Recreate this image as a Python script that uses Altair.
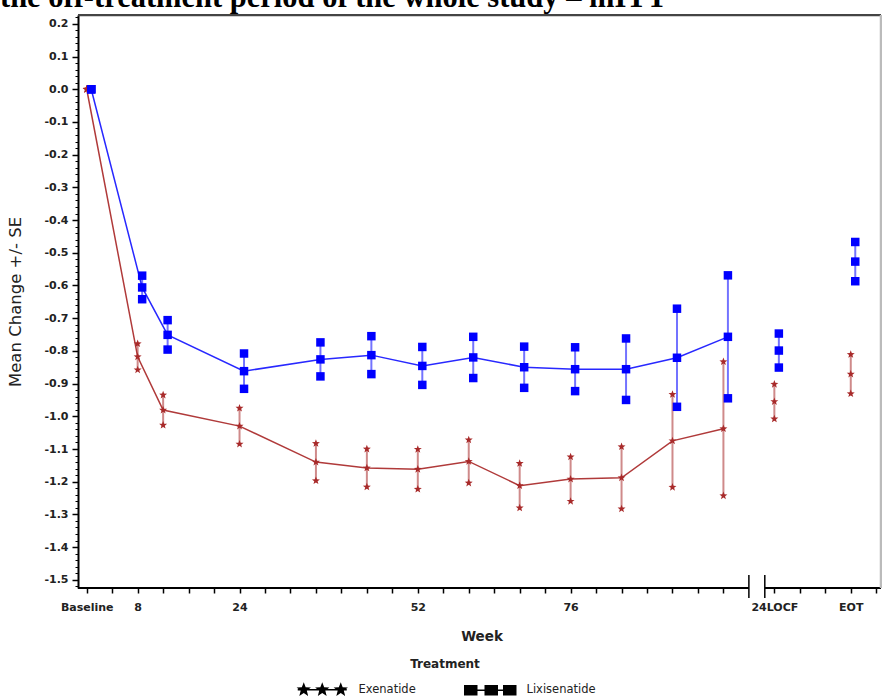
import math
import altair as alt
import pandas as pd

# ---------------- data ----------------
title_text = "the off-treatment period of the whole study – mITT"
treatments = ["Exenatide", "Lixisenatide"]
colors = ["#A82A2A", "#0000FF"]
line_colors = ["#B03A3A", "#2828FF"]

visit_names = ["Baseline", "Week 8", "Week 12", "Week 24", "Week 36", "Week 44", "Week 52",
               "Week 60", "Week 68", "Week 76", "Week 84", "Week 92", "Week 100", "24LOCF", "EOT"]
visit_pos = [0, 8, 12, 24, 36, 44, 52, 60, 68, 76, 84, 92, 100, 108, 120]
connected = [True] * 13 + [False] * 2

exen_mean = [0.0, -0.818, -0.981, -1.030, -1.140, -1.158, -1.162, -1.138, -1.212, -1.192,
             -1.188, -1.075, -1.038, -0.955, -0.871]
exen_se = [0.0, 0.040, 0.046, 0.055, 0.057, 0.058, 0.061, 0.066, 0.068, 0.068,
           0.095, 0.142, 0.205, 0.053, 0.060]
lixi_mean = [0.0, -0.606, -0.751, -0.862, -0.826, -0.813, -0.846, -0.820, -0.850, -0.856,
             -0.856, -0.821, -0.757, -0.799, -0.527]
lixi_se = [0.0, 0.036, 0.045, 0.054, 0.052, 0.058, 0.058, 0.063, 0.063, 0.067,
           0.094, 0.150, 0.188, 0.052, 0.060]

x_ticks = [0, 4, 8, 12, 16, 20, 24, 28, 32, 36, 40, 44, 48, 52, 56, 60, 64, 68, 72, 76,
           80, 84, 88, 92, 96, 100, 108, 112, 116, 120, 124]
x_label_pos = [0, 8, 24, 52, 76, 108, 120]
x_label_text = ["Baseline", "8", "24", "52", "76", "24LOCF", "EOT"]
y_ticks = [0.2, 0.1, 0.0, -0.1, -0.2, -0.3, -0.4, -0.5, -0.6, -0.7, -0.8, -0.9,
           -1.0, -1.1, -1.2, -1.3, -1.4, -1.5]

# ---------------- layout constants ----------------
X_MIN, X_MAX = -1.37, 124.75
Y_MIN, Y_MAX = -1.525, 0.227
BREAK_L, BREAK_R = 104.0, 106.5
W, H = 803, 573
dodge = [0, 4.5]

rows = []
for t, means, ses in [(treatments[0], exen_mean, exen_se), (treatments[1], lixi_mean, lixi_se)]:
    for name, p, c, m, s in zip(visit_names, visit_pos, connected, means, ses):
        rows.append(dict(treatment=t, visit=name, pos=p, connected=c, mean=m,
                         lower=round(m - s, 4), upper=round(m + s, 4)))
df = pd.DataFrame(rows)


def star(cx, cy, R, r):
    pts = []
    for i in range(10):
        a = -math.pi / 2 + i * math.pi / 5
        rad = R if i % 2 == 0 else r
        pts.append(f"{cx + rad * math.cos(a):.3f},{cy + rad * math.sin(a):.3f}")
    return "M" + "L".join(pts) + "Z"


def rect(cx, cy, hw, hh):
    return f"M{cx-hw:.3f},{cy-hh:.3f}L{cx+hw:.3f},{cy-hh:.3f}L{cx+hw:.3f},{cy+hh:.3f}L{cx-hw:.3f},{cy+hh:.3f}Z"


STAR = star(0, 0, 1, 0.42)
line_bar = rect(4.3, 0, 4.9, 0.15)
STAR_LEG = line_bar + "".join(star(c, 0, 1.5, 0.65) for c in [0.6, 4.3, 8.0])
SQ_LEG = line_bar + "".join(rect(c, 0, 1.35, 1.05) for c in [0.4, 4.5, 8.2])
shapes = [STAR, "square"]
sizes = [70, 72]

xscale = alt.Scale(domain=[X_MIN, X_MAX], nice=False, zero=False)
yscale = alt.Scale(domain=[Y_MIN, Y_MAX], nice=False, zero=False)

label_expr = "''"
for p, txt in reversed(list(zip(x_label_pos, x_label_text))):
    label_expr = f"datum.value == {p} ? '{txt}' : ({label_expr})"

x_axis = alt.Axis(values=x_ticks, orient="bottom", labelExpr=label_expr, domain=False, grid=False,
                  tickSize=5, tickWidth=1.5, tickColor="black", labelPadding=8,
                  labelFont="DejaVu Sans", labelFontSize=11, labelFontWeight="bold",
                  labelColor="#222", labelAngle=0, labelOverlap=False, labelFlush=False,
                  title="Week", titleFont="DejaVu Sans", titleFontSize=13.5,
                  titleFontWeight="bold", titleColor="#222", titleX=W / 2 + 2, titleY=48,
                  titleBaseline="middle", titleAlign="center")
y_axis = alt.Axis(values=y_ticks, orient="left",
                  labelExpr="replace(format(datum.value, '.1f'), '\u2212', '-')",
                  domain=True, domainColor="black", domainWidth=2, grid=False,
                  tickSize=6, tickWidth=1.5, tickColor="black", labelPadding=4,
                  labelFont="DejaVu Sans", labelFontSize=11, labelFontWeight="bold",
                  labelColor="#222", labelFlush=False,
                  title="Mean Change +/- SE", titleFont="DejaVu Sans", titleFontSize=16.5,
                  titleFontWeight="normal", titleColor="#222", titleAngle=270,
                  titleX=-63, titleY=H / 2, titleBaseline="middle", titleAlign="center")
y_minor_vals = [round(-1.52 + 0.02 * i, 2) for i in range(88) if i % 5 != 1]
y_minor_axis = alt.Axis(values=y_minor_vals, orient="left", labels=False, domain=False,
                        grid=False, tickSize=3, tickWidth=1, tickColor="black", title=None)


def X(field):
    return alt.X(field, scale=xscale, axis=x_axis)


layers = []

# frame lines (also carries the minor y ticks)
frame = pd.DataFrame({
    "x": [X_MIN, BREAK_R, X_MIN, X_MAX],
    "x2": [BREAK_L, X_MAX, X_MAX, X_MAX],
    "y": [Y_MIN, Y_MIN, Y_MAX, Y_MIN],
    "y2": [Y_MIN, Y_MIN, Y_MAX, Y_MAX],
    "kind": ["bottom", "bottom", "top", "right"],
})
frame_layer = alt.Chart(frame).mark_rule(strokeCap="butt").encode(
    x=X("x:Q"),
    x2="x2:Q",
    y=alt.Y("y:Q", scale=yscale, axis=y_minor_axis),
    y2="y2:Q",
    color=alt.Color("kind:N", scale=alt.Scale(domain=["bottom", "top", "right"],
                                              range=["black", "#444444", "#BBBBBB"]), legend=None),
    strokeWidth=alt.StrokeWidth("kind:N", scale=alt.Scale(domain=["bottom", "top", "right"],
                                                          range=[2, 2.5, 1]), legend=None),
)
layers.append(frame_layer)

breaks = pd.DataFrame({"x": [BREAK_L, BREAK_R]})
break_layer = alt.Chart(breaks).mark_rule(color="black", strokeWidth=1.5).encode(
    x=X("x:Q"),
    y=alt.value(H - 13), y2=alt.value(H + 10),
)
layers.append(break_layer)

for i, t in enumerate(treatments):
    base = alt.Chart(df).transform_filter(alt.datum.treatment == t)
    line = base.transform_filter("datum.connected").mark_line(
        color=line_colors[i], strokeWidth=1.5, xOffset=dodge[i]).encode(
        x=X("pos:Q"),
        y=alt.Y("mean:Q", scale=yscale, axis=y_axis if i == 0 else None),
    )
    err = base.mark_rule(color=colors[i], strokeWidth=2, opacity=0.55, xOffset=dodge[i]).encode(
        x=X("pos:Q"),
        y=alt.Y("lower:Q", scale=yscale, axis=None),
        y2="upper:Q",
    )
    pts = base.transform_fold(["mean", "lower", "upper"], as_=["kind", "val"]).mark_point(
        shape=shapes[i], filled=True, size=sizes[i], color=colors[i], opacity=1,
        strokeWidth=0, xOffset=dodge[i]).encode(
        x=X("pos:Q"),
        y=alt.Y("val:Q", scale=yscale, axis=None),
    )
    layers += [err, line, pts]

leg = dict(title="Treatment", orient="none", legendX=217, legendY=644, direction="horizontal",
           titleAnchor="middle", titleFont="DejaVu Sans", titleFontSize=12,
           titleFontWeight="bold", titleColor="#222", titlePadding=13,
           labelFont="DejaVu Sans", labelFontSize=11.5, labelColor="#222", labelOffset=52,
           symbolSize=100, symbolStrokeWidth=0, columnPadding=47, padding=0)
legend_layer = alt.Chart(df).transform_filter("false").mark_point(
    filled=True, size=100, opacity=1).encode(
    x=X("pos:Q"),
    y=alt.Y("mean:Q", scale=yscale, axis=None),
    color=alt.Color("treatment:N", scale=alt.Scale(domain=treatments, range=colors),
                    legend=alt.Legend(**leg)),
    shape=alt.Shape("treatment:N", scale=alt.Scale(domain=treatments, range=[STAR_LEG, SQ_LEG]),
                    legend=alt.Legend(**leg)),
)
layers.append(legend_layer)

title_layer = alt.Chart(pd.DataFrame({"t": [title_text]})).mark_text(
    align="left", baseline="alphabetic", font="Liberation Serif", fontSize=30.5,
    fontWeight="bold", color="black").encode(
    text="t:N", x=alt.value(-78), y=alt.value(-8))
layers.append(title_layer)

chart = alt.layer(*layers).resolve_axis(y="independent").properties(
    width=W, height=H,
    autosize=alt.AutoSizeParams(type="none"),
    padding={"left": 78, "top": 15, "right": 1, "bottom": 111},
    background="white",
).configure_view(stroke=None)

chart.save("out.html", embed_options={"renderer": "svg", "actions": False})
